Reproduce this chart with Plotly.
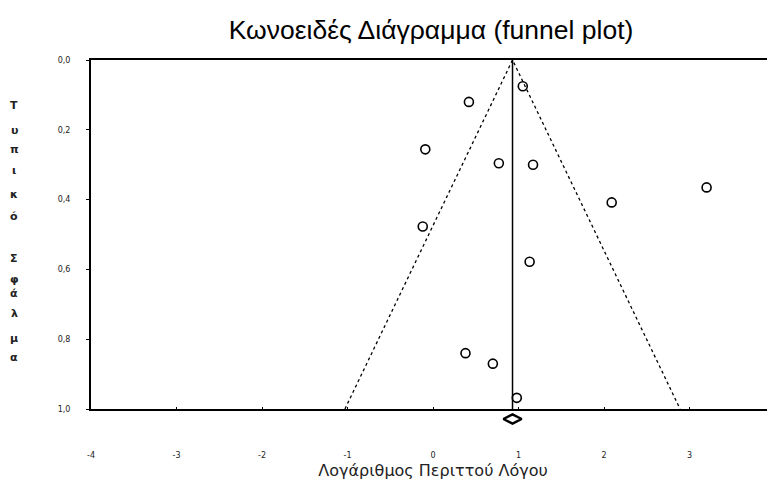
import plotly.graph_objects as go

# Study data: log odds ratio vs standard error
log_or = [1.05, 0.42, -0.09, 0.77, 1.17, 3.20, 2.09, -0.12, 1.13, 0.38, 0.70, 0.98]
std_err = [0.075, 0.12, 0.256, 0.296, 0.30, 0.365, 0.408, 0.477, 0.578, 0.84, 0.87, 0.968]

pooled = 0.93
funnel_se = [0.0, 1.0]

x_ticks = [-4, -3, -2, -1, 0, 1, 2, 3, 4]
x_ticktext = ["-4", "-3", "-2", "-1", "0", "1", "2", "3", "4"]
y_ticks = [0.0, 0.2, 0.4, 0.6, 0.8, 1.0]
y_ticktext = ["0,0", "0,2", "0,4", "0,6", "0,8", "1,0"]

title = "Κωνοειδές Διάγραμμα (funnel plot)"
x_title = "Λογάριθμος Περιττού Λόγου"
y_title_letters = ["Τ", "υ", "π", "ι", "κ", "ό", "", "Σ", "φ", "ά", "λ", "μ", "α"]

fig = go.Figure()

# Funnel limits
left = [pooled - 1.96 * s for s in funnel_se]
right = [pooled + 1.96 * s for s in funnel_se]
fig.add_trace(go.Scatter(x=[left[1], pooled, right[1]], y=[funnel_se[1], funnel_se[0], funnel_se[1]],
                         mode="lines", line=dict(color="black", width=1.3, dash="dot"),
                         hoverinfo="skip", showlegend=False))
# Pooled estimate vertical line
fig.add_trace(go.Scatter(x=[pooled, pooled], y=funnel_se, mode="lines",
                         line=dict(color="black", width=1.5), showlegend=False))
# Studies
fig.add_trace(go.Scatter(x=log_or, y=std_err, mode="markers",
                         marker=dict(symbol="circle-open", size=9, color="black", line=dict(width=1.6)),
                         showlegend=False))
# Pooled-estimate diamond in a thin strip just below the x axis
fig.add_trace(go.Scatter(x=[pooled], y=[0.5], xaxis="x", yaxis="y2", mode="markers", cliponaxis=False,
                         marker=dict(symbol="diamond-wide-open", size=13, color="black", line=dict(width=2.5)),
                         showlegend=False))

tick_font = dict(family="DejaVu Sans, sans-serif", size=8, color="#222")

# Figure is placed 8px from the page's top-left corner by the default body margin
W, H = 767, 476
strip = 20 / 369  # fraction of the plot domain used by the strip below the axis
fig.update_layout(
    width=W, height=H,
    margin=dict(l=83, r=0, t=52, b=55, autoexpand=False),
    paper_bgcolor="white", plot_bgcolor="white",
    title=dict(text=title, x=(431 - 8) / W, xanchor="center", y=1 - (30 - 8) / H, yanchor="middle",
               xref="container", yref="container",
               font=dict(family="Liberation Sans, Arial, sans-serif", size=26.5, color="black")),
    xaxis=dict(range=[-4, 4], tickvals=x_ticks, ticktext=x_ticktext, showgrid=False, zeroline=False,
               showline=True, linecolor="black", linewidth=2, mirror=True, automargin=False,
               anchor="y",
               ticks="inside", ticklen=2, tickcolor="black", tickfont=tick_font,
               ticklabelstandoff=37,
               title=dict(text=x_title, standoff=6,
                          font=dict(family="DejaVu Sans, sans-serif", size=16, color="#222"))),
    yaxis=dict(domain=[strip, 1], range=[1.0, 0.0], tickvals=y_ticks, ticktext=y_ticktext,
               showgrid=False, zeroline=False,
               showline=True, linecolor="black", linewidth=2, automargin=False,
               ticks="outside", ticklen=3, tickcolor="black", tickfont=tick_font,
               ticklabelstandoff=14),
    yaxis2=dict(domain=[0, strip], range=[0, 1], visible=False, anchor="x"),
)

letter_y = [106, 130, 149, 170, 194, 216, 0, 258, 279, 293, 313, 338, 357]
for ch, py in zip(y_title_letters, letter_y):
    if not ch:
        continue
    fig.add_annotation(text="<b>" + ch + "</b>", xref="x domain", yref="y domain",
                       x=(14 - 91) / 684, y=(409 - py) / 349,
                       showarrow=False, xanchor="center", yanchor="middle",
                       font=dict(family="DejaVu Sans, sans-serif", size=11, color="#222"))

fig.write_html("out.html")
